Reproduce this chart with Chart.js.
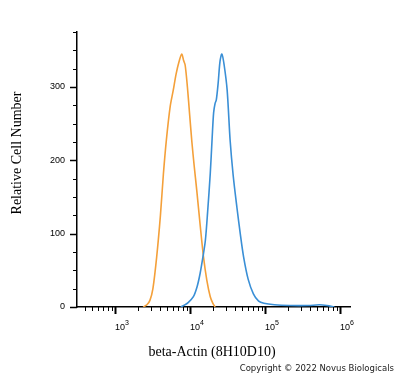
<!DOCTYPE html>
<html>
<head>
<meta charset="utf-8">
<script src="https://cdn.jsdelivr.net/npm/chart.js@4"></script>
<style>
  html, body { margin: 0; padding: 0; background: #fff; }
  #wrap { width: 400px; height: 378px; position: relative; }
</style>
</head>
<body>
<div id="wrap"><canvas id="flowHistogram"></canvas></div>
<script>
// isotype control (orange) - fluorescence intensity and cell counts
var controlIntensity = [2370, 2660, 2920, 3200, 3590, 4030, 4420, 4840, 5430, 5960, 6530, 7160, 7760, 8220, 8610, 9230, 9890, 10590, 11350, 12300, 13650, 15140, 16790, 18620, 20180, 21630];
var controlCount = [0, 3, 9, 25, 68, 125, 182, 228, 273, 295, 318, 335, 345, 336, 330, 300, 262, 225, 193, 159, 112, 68, 36, 14, 5, 0];

// beta-Actin stained (blue)
var stainedIntensity = [7500, 8220, 9440, 11090, 12450, 13650, 14960, 16030, 17180, 18620, 19720, 20650, 21630, 22390, 23710, 25120, 26610, 28510, 31260, 34280, 37580, 42170, 46770, 51880, 59570, 69980, 82220, 96600, 133400, 211300, 375800, 530900, 668400, 841400];
var stainedCount = [0, 2, 6, 14, 28, 46, 70, 91, 130, 182, 230, 265, 278, 282, 305, 335, 345, 330, 296, 227, 180, 136, 100, 68, 38, 18, 8, 5, 3, 2, 2, 3, 2, 0];

var xMajorTicks = [1e3, 1e4, 1e5, 1e6];
var xTickExponents = ['3', '4', '5', '6'];
var yMajorTicks = [0, 100, 200, 300];

function toPoints(xs, ys) {
    return xs.map(function (x, i) { return { x: x, y: ys[i] }; });
}

// tick marks: longer on decades / hundreds, short minor ones between
var tickMarks = {
    id: 'tickMarks',
    afterDraw: function (chart) {
        var c = chart.ctx, xs = chart.scales.x, ys = chart.scales.y;
        c.save();
        c.strokeStyle = '#000';
        for (var e = 2; e <= 6; e++) {
            for (var m = 1; m <= 9; m++) {
                var v = m * Math.pow(10, e);
                if (v < xs.min || v > xs.max) continue;
                var px = Math.round(xs.getPixelForValue(v)) + 0.5;
                c.lineWidth = m === 1 ? 2 : 1;
                c.beginPath();
                c.moveTo(px, xs.top);
                c.lineTo(px, xs.top + (m === 1 ? 7 : 4));
                c.stroke();
            }
        }
        for (var y = 0; y <= 375; y += 25) {
            var py = Math.round(ys.getPixelForValue(y)) + 0.5;
            var major = y % 100 === 0;
            c.lineWidth = major ? 1.5 : 1;
            c.beginPath();
            c.moveTo(ys.right, py);
            c.lineTo(ys.right - (major ? 7 : 4), py);
            c.stroke();
        }
        // decade labels, 10 with raised exponent
        c.fillStyle = '#000';
        c.textBaseline = 'alphabetic';
        c.textAlign = 'left';
        xMajorTicks.forEach(function (v, i) {
            var px = xs.getPixelForValue(v);
            c.font = '9px "Liberation Sans"';
            c.fillText('10', px, 330);
            var w = c.measureText('10').width;
            c.font = '7px "Liberation Sans"';
            c.fillText(xTickExponents[i], px + w, 325);
        });
        c.restore();
    }
};

// axis titles and credit line
var captions = {
    id: 'captions',
    afterDraw: function (chart) {
        var c = chart.ctx;
        c.save();
        c.fillStyle = '#000';
        c.textAlign = 'center';
        c.textBaseline = 'middle';
        c.font = '14px "Liberation Serif"';
        c.fillText('beta-Actin (8H10D10)', 212, 352);
        c.translate(17, 153);
        c.rotate(-Math.PI / 2);
        c.fillText('Relative Cell Number', 0, 0);
        c.restore();
        c.save();
        c.fillStyle = '#222';
        c.textAlign = 'right';
        c.textBaseline = 'middle';
        c.font = '8.5px "DejaVu Sans"';
        c.fillText('Copyright © 2022 Novus Biologicals', 394, 369);
        c.restore();
    }
};

var ctx = document.getElementById('flowHistogram').getContext('2d');
var flowHistogram = new Chart(ctx, {
    type: 'line',
    data: {
        datasets: [{
            label: 'beta-Actin',
            data: toPoints(stainedIntensity, stainedCount),
            borderColor: 'rgb(58, 143, 214)',
            borderWidth: 1.6,
            pointRadius: 0,
            tension: 0.3,
            fill: false
        }, {
            label: 'Isotype control',
            data: toPoints(controlIntensity, controlCount),
            borderColor: 'rgb(244, 160, 58)',
            borderWidth: 1.6,
            pointRadius: 0,
            tension: 0.3,
            fill: false
        }]
    },
    options: {
        responsive: true,
        maintainAspectRatio: false,
        animation: false,
        layout: { padding: { top: 32, right: 50, left: 0, bottom: 0 } },
        scales: {
            x: {
                type: 'logarithmic',
                min: 311,
                max: 1360000,
                afterBuildTicks: function (scale) {
                    scale.ticks = xMajorTicks.map(function (v) { return { value: v, major: true }; });
                },
                afterFit: function (scale) { scale.height = 71; },
                grid: { display: false, drawTicks: false },
                border: { display: true, color: '#000', width: 1.5 },
                ticks: { display: false }
            },
            y: {
                min: 0,
                max: 375,
                afterBuildTicks: function (scale) {
                    scale.ticks = yMajorTicks.map(function (v) { return { value: v }; });
                },
                afterFit: function (scale) { scale.width = 77; },
                grid: { display: false, drawTicks: false },
                border: { display: true, color: '#000', width: 1.5 },
                ticks: {
                    padding: 12,
                    color: '#000',
                    font: { family: 'Liberation Sans', size: 9 }
                }
            }
        },
        plugins: {
            legend: { display: false },
            tooltip: { enabled: false }
        }
    },
    plugins: [tickMarks, captions]
});
</script>
</body>
</html>
